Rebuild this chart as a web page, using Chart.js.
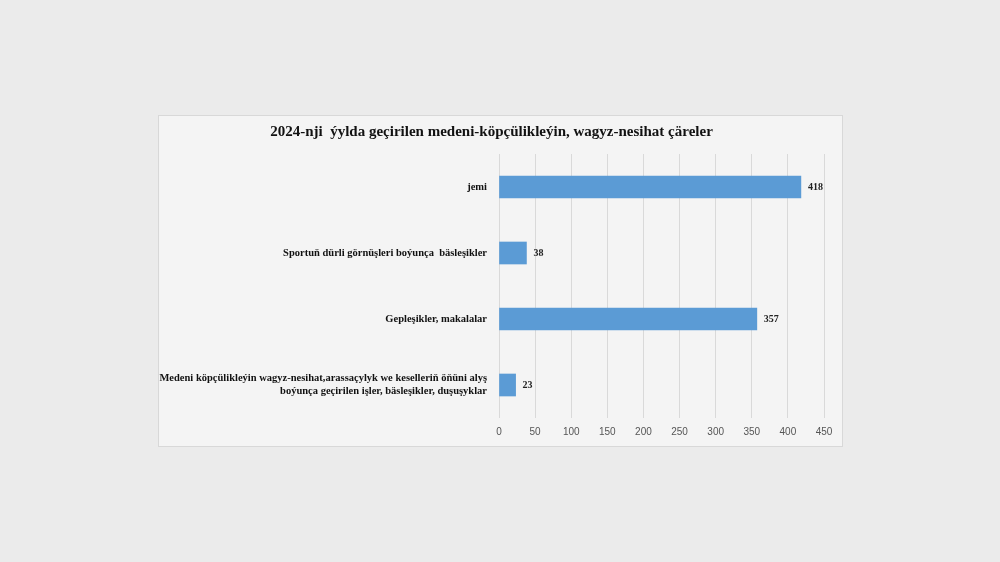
<!DOCTYPE html>
<html><head><meta charset="utf-8">
<script src="https://cdn.jsdelivr.net/npm/chart.js"></script>
<style>
body{margin:0;width:1000px;height:562px;background:#ebebeb;position:relative;overflow:hidden}
#box{position:absolute;left:158px;top:115px;width:685px;height:332px;background:#f4f4f4;border:1px solid #d8d8d8;box-sizing:border-box}
</style></head><body>
<div id="box"><canvas id="c"></canvas></div>
<script>
const categories=["jemi","Sportuň dürli görnüşleri boýunça  bäsleşikler","Gepleşikler, makalalar",["Medeni köpçülikleýin wagyz-nesihat,arassaçylyk we keselleriň öňüni alyş","boýunça geçirilen işler, bäsleşikler, duşuşyklar"]];
const values=[418,38,357,23];
const ticks=[0,50,100,150,200,250,300,350,400,450];
const labelPlugin={id:'lbl',afterDatasetsDraw(ch){const c=ch.ctx;const m=ch.getDatasetMeta(0);c.save();c.font='bold 10px "Liberation Serif"';c.fillStyle='#222';c.textBaseline='middle';m.data.forEach((b,i)=>{c.fillText(values[i],b.x+7,b.y);});c.restore();}};
new Chart(document.getElementById('c'),{type:'bar',
data:{labels:categories,datasets:[{data:values,backgroundColor:'#5b9bd5',barThickness:22}]},
options:{indexAxis:'y',responsive:true,maintainAspectRatio:false,animation:false,
layout:{padding:{right:18,bottom:0,top:1}},
plugins:{legend:{display:false},tooltip:{enabled:false},
title:{display:true,text:'2024-nji  ýylda geçirilen medeni-köpçülikleýin, wagyz-nesihat çäreler',color:'#111',font:{family:'Liberation Serif',size:15,weight:'bold'},padding:{top:6,bottom:13}}},
scales:{x:{min:0,max:450,afterBuildTicks(a){a.ticks=ticks.map(v=>({value:v}));},grid:{color:'#d9d9d9',drawTicks:false},border:{display:false},ticks:{color:'#555',font:{family:'Liberation Sans',size:10},padding:8}},
y:{afterFit(a){a.width=340;},grid:{display:false},border:{display:false},ticks:{color:'#111',font:{family:'Liberation Serif',size:10.5,weight:'bold'},padding:4}}}},
plugins:[labelPlugin]});
</script></body></html>
